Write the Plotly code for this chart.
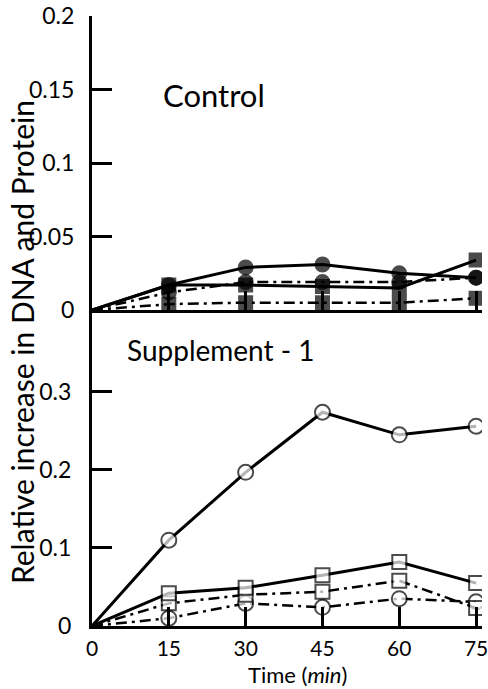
import plotly.graph_objects as go

# Sampling times (min)
time_min = [0, 15, 30, 45, 60, 75]
time_ticks = ["0", "15", "30", "45", "60", "75"]

# Control: relative increase
ctrl_solid_circle = [0, 0.017, 0.029, 0.031, 0.025, 0.022]
ctrl_solid_square = [0, 0.017, 0.017, 0.016, 0.015, 0.034]
ctrl_dash_circle = [0, 0.012, 0.019, 0.019, 0.019, 0.022]
ctrl_dash_square = [0, 0.004, 0.005, 0.005, 0.005, 0.008]

# Supplement-1: relative increase
sup_solid_circle = [0, 0.110, 0.197, 0.274, 0.245, 0.256]
sup_solid_square = [0, 0.042, 0.049, 0.065, 0.082, 0.055]
sup_dash_square = [0, 0.029, 0.040, 0.044, 0.058, 0.023]
sup_dash_circle = [0, 0.010, 0.029, 0.024, 0.035, 0.031]

top_ticks = [0, 0.05, 0.1, 0.15, 0.2]
top_ticktext = ["0", "0.05", "0.1", "0.15", "0.2"]
bot_ticks = [0, 0.1, 0.2, 0.3]
bot_ticktext = ["0", "0.1", "0.2", "0.3"]

FONT = "Lato"
DASHDOT = "11px,5px,3px,5px"

fig = go.Figure()


def add_series(y, symbol, size, dash, filled, panel):
    # no marker at the origin point
    sizes = [0] + [size] * (len(y) - 1)
    fig.add_trace(go.Scatter(
        x=time_min, y=y, mode="lines+markers",
        xaxis="x2" if panel == "top" else "x",
        yaxis="y2" if panel == "top" else "y",
        line=dict(color="black", width=3 if dash == "solid" else 2.5, dash=dash),
        marker=dict(symbol=symbol, size=sizes,
                    color="black" if filled else "white",
                    line=dict(color="black", width=2)),
        showlegend=False,
    ))


# Control panel (filled markers)
add_series(ctrl_dash_square, "square", 13, DASHDOT, True, "top")
add_series(ctrl_dash_circle, "circle", 14, DASHDOT, True, "top")
add_series(ctrl_solid_square, "square", 13, "solid", True, "top")
add_series(ctrl_solid_circle, "circle", 14, "solid", True, "top")

# Supplement-1 panel (open markers)
add_series(sup_dash_circle, "circle", 15, DASHDOT, False, "bottom")
add_series(sup_dash_square, "square", 14, DASHDOT, False, "bottom")
add_series(sup_solid_square, "square", 14, "solid", False, "bottom")
add_series(sup_solid_circle, "circle", 15, "solid", False, "bottom")

axis_common = dict(showgrid=False, zeroline=False, showline=True,
                   linecolor="black", linewidth=3, ticks="inside",
                   tickcolor="black", tickwidth=3)

fig.update_layout(
    width=488, height=689,
    margin=dict(l=92, r=0, t=16, b=63),
    paper_bgcolor="white", plot_bgcolor="white",
    font=dict(family=FONT, color="black"),
    xaxis=dict(axis_common, domain=[0, 1], range=[0, 76.15], anchor="y",
               tickvals=time_min, ticktext=time_ticks, ticklen=19,
               tickfont=dict(size=21), ticklabelstandoff=2,
               ticklabeloverflow="allow"),
    xaxis2=dict(axis_common, domain=[0, 1], range=[0, 76.15], anchor="y2",
                tickvals=time_min, ticklen=19, showticklabels=False),
    yaxis=dict(axis_common, domain=[0, 0.518], range=[0, 0.405], anchor="x",
               tickvals=bot_ticks, ticktext=bot_ticktext, ticklen=20,
               tickfont=dict(size=23), ticklabelstandoff=13),
    yaxis2=dict(axis_common, domain=[0.518, 1], range=[0, 0.2001], anchor="x2",
                tickvals=top_ticks, ticktext=top_ticktext, ticklen=20,
                tickfont=dict(size=23), ticklabelstandoff=10),
    annotations=[
        dict(text="Control", xref="x2", yref="y2", x=23.8, y=0.146,
             xanchor="center", yanchor="middle",
             showarrow=False, font=dict(size=31)),
        dict(text="Supplement - 1", xref="x", yref="y", x=25.2, y=0.354,
             xanchor="center", yanchor="middle",
             showarrow=False, font=dict(size=28)),
        dict(text="Relative increase in DNA and Protein", xref="paper", yref="paper",
             x=(21 - 92) / 396, y=(626 - 342) / 610, textangle=-90,
             xanchor="center", yanchor="middle",
             showarrow=False, font=dict(size=30)),
        dict(text="Time (<i>min</i>)", xref="paper", yref="paper",
             x=(301 - 92) / 396, y=(626 - 675) / 610,
             xanchor="center", yanchor="middle",
             showarrow=False, font=dict(size=22)),
    ],
)

fig.write_html("out.html")
